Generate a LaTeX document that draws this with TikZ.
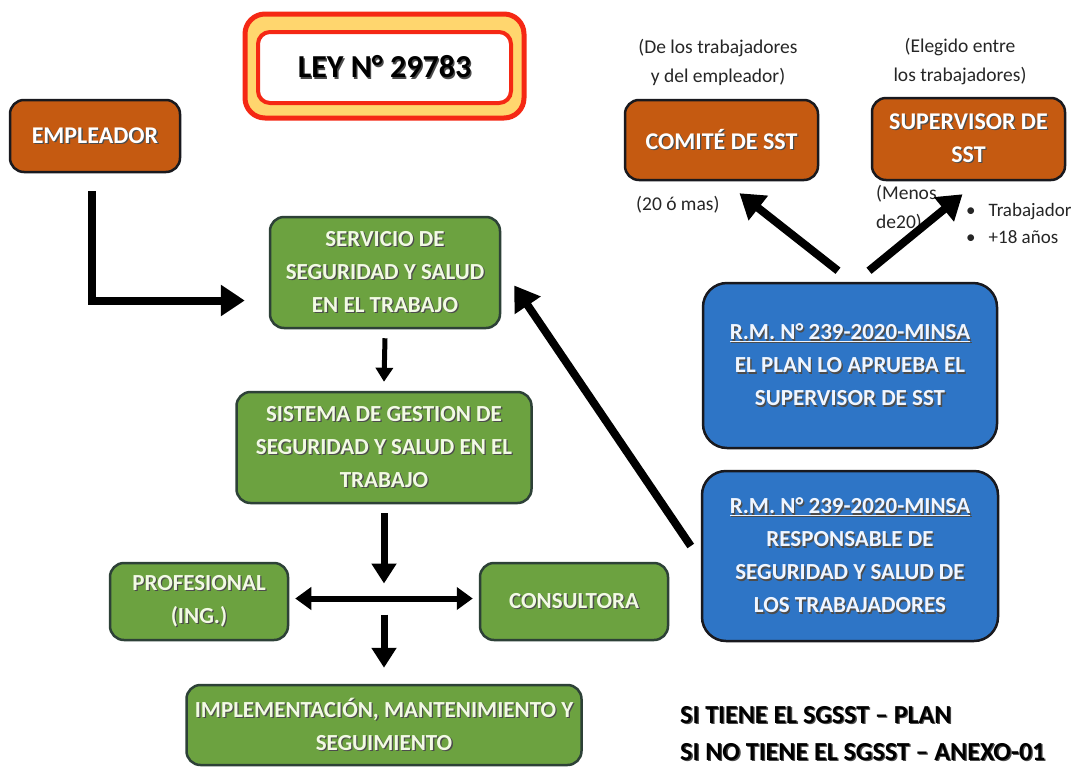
\documentclass[tikz,border=0pt]{standalone}
\usepackage{fontspec}
\setmainfont{Carlito}
\usetikzlibrary{arrows.meta}
\definecolor{orng}{RGB}{197,90,17}
\definecolor{grn}{RGB}{108,162,64}
\definecolor{blu}{RGB}{46,117,198}
\definecolor{lred}{RGB}{245,40,20}
\definecolor{lyel}{RGB}{255,214,110}
\definecolor{gbord}{RGB}{45,65,55}
\definecolor{dbord}{RGB}{25,25,30}
\definecolor{gtext}{RGB}{242,250,228}
\definecolor{btext}{RGB}{240,246,255}
\newcommand\shd[1]{\makebox[0pt][l]{\kern1.3pt\raisebox{-1.3pt}{\textcolor{black!70}{#1}}}#1}
\newcommand\bxfont{\fontsize{23}{33}\selectfont\bfseries}
\newcommand\obfont{\fontsize{24}{33}\selectfont\bfseries}
\newcommand\anfont{\fontsize{19.5}{29}\selectfont}
\tikzset{
  box/.style={rounded corners=14pt, line width=2.5pt, inner sep=0pt, align=center, font=\bxfont},
  obox/.style={box, font=\obfont, fill=orng, draw=dbord, text=white},
  gbox/.style={box, fill=grn, draw=gbord, text=gtext},
  bbox/.style={box, fill=blu, draw=dbord, text=btext, rounded corners=24pt},
  ann/.style={inner sep=0pt, font=\anfont, text=black!85},
  arr/.style={line width=8pt, -{Triangle[length=24pt,width=30pt]}},
  marr/.style={line width=7pt, -{Triangle[length=20pt,width=24pt]}},
  sarr/.style={line width=5pt, -{Triangle[length=14pt,width=17pt]}},
  darr/.style={line width=6pt, {Triangle[length=16pt,width=22pt]}-{Triangle[length=16pt,width=22pt]}}
}
\begin{document}
\begin{tikzpicture}[x=1pt,y=-1pt]
\useasboundingbox[fill=white] (0,0) rectangle (1084,782);

% LEY
\node[draw=lred, line width=5pt, fill=lyel, rounded corners=20pt, minimum width=279pt, minimum height=104pt, inner sep=0pt] (LEYo) at (384.5,66) {};
\node[draw=lred, line width=4pt, fill=white, rounded corners=12pt, minimum width=253pt, minimum height=71pt, inner sep=0pt, font=\fontsize{32}{36}\selectfont\bfseries, text=black] (LEY) at (384.5,67.5) {\shd{LEY N° 29783}};

% orange boxes
\node[obox, minimum width=170pt, minimum height=72pt] (EMP) at (95,136) {\shd{EMPLEADOR}};
\node[obox, minimum width=193pt, minimum height=80pt] (COM) at (721.5,140) {\shd{COMITÉ DE SST}};
\node[obox, minimum width=193pt, minimum height=82pt] (SUP) at (968.5,139) {\shd{SUPERVISOR DE}\\\shd{SST}};

% green boxes
\node[gbox, minimum width=230pt, minimum height=111pt] (SERV) at (385,272.5) {\shd{SERVICIO DE}\\\shd{SEGURIDAD Y SALUD}\\\shd{EN EL TRABAJO}};
\node[gbox, minimum width=295pt, minimum height=111pt] (SIS) at (384,447.5) {\shd{SISTEMA DE GESTION DE}\\\shd{SEGURIDAD Y SALUD EN EL}\\\shd{TRABAJO}};
\node[gbox, minimum width=178pt, minimum height=77pt] (PROF) at (199,601.5) {\shd{PROFESIONAL}\\\shd{(ING.)}};
\node[gbox, minimum width=188pt, minimum height=77pt] (CONS) at (574,601.5) {\shd{CONSULTORA}};
\node[gbox, minimum width=395pt, minimum height=80pt] (IMPL) at (384,725) {\shd{IMPLEMENTACIÓN, MANTENIMIENTO Y}\\\shd{SEGUIMIENTO}};

% blue boxes
\node[bbox, minimum width=294pt, minimum height=165pt] (B1) at (850,365.5) {\shd{\underline{R.M. N° 239-2020-MINSA}}\\\shd{EL PLAN LO APRUEBA EL}\\\shd{SUPERVISOR DE SST}};
\node[bbox, minimum width=296pt, minimum height=170pt] (B2) at (850,556) {\shd{\underline{R.M. N° 239-2020-MINSA}}\\\shd{RESPONSABLE DE}\\\shd{SEGURIDAD Y SALUD DE}\\\shd{LOS TRABAJADORES}};

% annotations
\node[ann, align=center] (COMT) at (718,62) {(De los trabajadores\\y del empleador)};
\node[ann, align=center] (SUPT) at (960,62) {(Elegido entre\\los trabajadores)};
\node[ann, anchor=west] (N20) at (636,205) {(20 ó mas)};
\node[ann, anchor=north west, align=left] (MEN) at (876,185) {(Menos\\de20)};
\node[ann, anchor=north west, align=left, font=\fontsize{19}{27}\selectfont] (BUL) at (966,203) {•\hspace{13pt}Trabajador\\•\hspace{13pt}+18 años};
\node[inner sep=0pt, anchor=north west, align=left, font=\fontsize{26}{37}\selectfont\bfseries, text=black] (BOT) at (680,706) {\shd{SI TIENE EL SGSST – PLAN}\\\shd{SI NO TIENE EL SGSST – ANEXO-01}};

% connectors
\coordinate (J) at (384,598.5);
\draw[arr] ([shift={(-3,18)}]EMP.south) |- ([shift={(-24,28)}]SERV.west);
\draw[sarr] ([shift={(0,9)}]SERV.south) -- ([shift={(0,-9)}]SIS.north);
\draw[marr] ([shift={(0,9)}]SIS.south) -- ([shift={(0,-15)}]J);
\draw[marr] ([shift={(0,16)}]J) -- ([shift={(0,-16)}]IMPL.north);
\draw[darr] ([shift={(6,-3)}]PROF.east) -- ([shift={(-6,-3)}]CONS.west);
\draw[arr] ([shift={(-12,-11)}]B1.north) -- ([shift={(18,12)}]COM.south);
\draw[arr] ([shift={(19,-11)}]B1.north) -- ([shift={(-6,13)}]SUP.south);
\draw[arr] ([shift={(-10,-10)}]B2.west) -- ([shift={(13,13)}]SERV.east);
\end{tikzpicture}
\end{document}
